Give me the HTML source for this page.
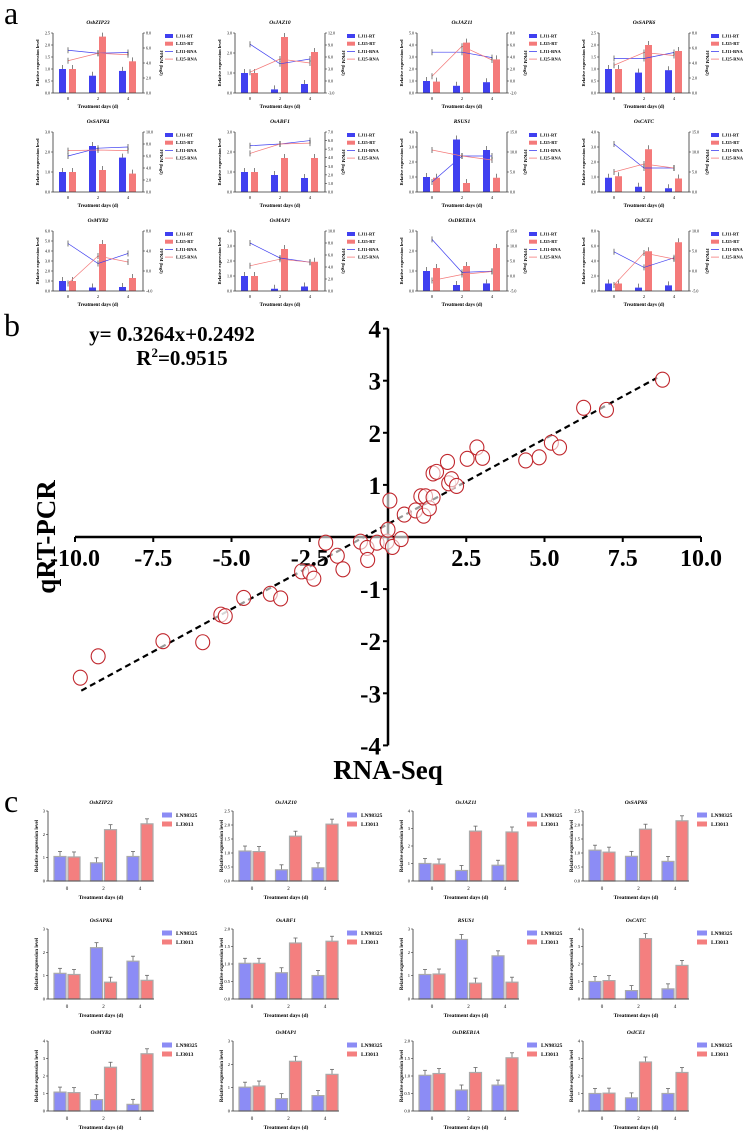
<!DOCTYPE html>
<html><head><meta charset="utf-8"><style>
html,body{margin:0;padding:0;background:#fff}
svg{display:block;font-family:"Liberation Serif",serif}
</style></head><body>
<svg id="fig" width="744" height="1134" viewBox="0 0 744 1134">
<text x="4" y="24" font-size="32">a</text>
<text x="4" y="336" font-size="32">b</text>
<text x="4" y="812" font-size="32">c</text>
<g id="pa"></g>
<g id="pb"></g>
<g id="pc"></g>
</svg>
<script>
// ---------- Panel b data ----------
const scatterX = [-9.83,-9.26,-7.19,-5.92,-5.34,-5.2,-4.61,-3.76,-3.43,-2.76,-2.5,-2.37,-1.99,-1.62,-1.44,-0.88,-0.67,-0.65,-0.35,-0.03,0,0.06,0.14,0.42,0.52,0.88,1.05,1.14,1.2,1.32,1.44,1.44,1.55,1.9,1.94,2.03,2.19,2.53,2.84,3.02,4.4,4.83,5.22,5.48,6.25,6.98,8.77];
const scatterY = [-2.70,-2.29,-2.00,-2.02,-1.49,-1.52,-1.17,-1.09,-1.18,-0.66,-0.68,-0.80,-0.11,-0.36,-0.62,-0.09,-0.21,-0.44,-0.11,-0.09,0.14,0.70,-0.19,-0.04,0.43,0.51,0.78,0.41,0.78,0.55,0.76,1.22,1.25,1.44,1.03,1.11,0.98,1.50,1.72,1.52,1.47,1.53,1.81,1.72,2.48,2.44,3.02];
const xTicks = [-10,-7.5,-5,-2.5,2.5,5,7.5,10];
const xTickLabels = ["-10.0","-7.5","-5.0","-2.5","2.5","5.0","7.5","10.0"];
const yTicks = [4,3,2,1,-1,-2,-3,-4];
const regSlope = 0.3264, regIntercept = 0.2492, regRange = [-9.8,8.6];

// ---------- Panel a data ----------
const aGenes = ["OsbZIP23","OsJAZ10","OsJAZ11","OsSAPK6","OsSAPK4","OsABF1","RSUS1","OsCATC","OsMYB2","OsMAP1","OsDREB1A","OsICE1"];
const aLeftMax = [2.5,3,5,2.5,3,3,4,4,6,4,3,8];
const aLeftStep = [0.5,1,1,0.5,1,1,1,1,1,1,1,2];
const aRightMin = [0,-3,-2,0,0,0,0,0,-4,0,-5,-5];
const aRightMax = [8,12,8,8,10,7,15,15,8,10,15,10];
const aRightStep = [2,3,2,2,2,1,5,5,4,2,5,5];
const aLJ11RT = [[1.0,0.72,0.92],[1.0,0.18,0.45],[1.0,0.6,0.9],[1.0,0.85,0.95],[1.0,2.3,1.72],[1.0,0.85,0.7],[1.0,3.5,2.8],[0.95,0.35,0.25],[1.0,0.35,0.4],[1.0,0.15,0.3],[1.0,0.3,0.38],[1.0,0.45,0.75]];
const aLJ25RT = [[1.0,2.35,1.32],[1.0,2.8,2.05],[0.95,4.2,2.8],[1.0,2.0,1.75],[1.0,1.1,0.92],[1.0,1.7,1.7],[0.95,0.6,0.95],[1.05,2.85,0.9],[1.0,4.7,1.3],[1.0,2.8,1.95],[1.15,1.25,2.15],[1.0,5.3,6.5]];
const aLJ11RNA = [[5.7,5.3,5.4],[9.2,4.3,5.5],[4.8,4.8,3.9],[4.6,4.6,5.4],[6.0,7.3,7.5],[5.4,5.6,6.0],[2.5,9.0,9.0],[12.0,6.0,6.0],[5.5,1.5,3.5],[8.0,5.5,4.8],[12.2,1.2,1.6],[4.8,0.9,3.3]];
const aLJ25RNA = [[4.3,5.3,5.1],[2.2,5.5,4.5],[0.8,5.8,3.5],[3.7,5.4,5.0],[6.9,7.0,6.9],[4.5,5.6,5.7],[10.5,9.0,8.0],[5.0,7.0,6.0],[-2.5,3.0,1.8],[4.2,5.3,4.8],[-1.5,0.5,1.5],[-3.5,4.5,3.0]];
const aLegend = ["LJ11-RT","LJ25-RT","LJ11-RNA","LJ25-RNA"];

// ---------- Panel c data ----------
const cGenes = ["OsbZIP23","OsJAZ10","OsJAZ11","OsSAPK6","OsSAPK4","OsABF1","RSUS1","OsCATC","OsMYB2","OsMAP1","OsDREB1A","OsICE1"];
const cMax = [3,2.5,4,2.5,3,2.0,3,4,4,3,2.0,4];
const cStep = [1,0.5,1,0.5,1,0.5,1,1,1,1,0.5,1];
const cLN = [[1.05,0.78,1.05],[1.07,0.4,0.47],[1.0,0.6,0.9],[1.1,0.88,0.7],[1.1,2.2,1.62],[1.02,0.75,0.67],[1.05,2.55,1.85],[1.0,0.48,0.58],[1.08,0.65,0.38],[1.02,0.53,0.66],[1.02,0.6,0.74],[1.0,0.75,1.0]];
const cLJ = [[1.03,2.2,2.45],[1.05,1.6,2.03],[0.97,2.85,2.8],[1.03,1.85,2.15],[1.05,0.72,0.8],[1.02,1.6,1.65],[1.07,0.68,0.72],[1.05,3.45,1.92],[1.05,2.5,3.27],[1.07,2.13,1.57],[1.07,1.1,1.52],[1.02,2.8,2.2]];
const days = ["0","2","4"];
const cLegend = ["LN98325","LJ3013"];

const NS="http://www.w3.org/2000/svg";
function mk(parent,tag,attrs,text){const e=document.createElementNS(NS,tag);for(const k in attrs)e.setAttribute(k,attrs[k]);if(text!==undefined)e.textContent=text;parent.appendChild(e);return e;}

// ---------- Panel b ----------
(function(){
  const g=document.getElementById('pb');
  const x0=388,y0=537,ux=31.3,uy=52.1;
  const sx=v=>x0+v*ux, sy=v=>y0-v*uy;
  let e=mk(g,'line',{x1:sx(-10),y1:y0,x2:sx(10),y2:y0,stroke:'#000','stroke-width':2.5});
  
  e=mk(g,'line',{x1:x0,y1:sy(4),x2:x0,y2:sy(-4),stroke:'#000','stroke-width':2.5});
  
  xTicks.forEach((t,i)=>{
    mk(g,'line',{x1:sx(t),y1:y0,x2:sx(t),y2:y0+5,stroke:'#000','stroke-width':2});
    const l=mk(g,'text',{x:sx(t),y:y0+29,'font-size':24,'font-weight':'bold','text-anchor':'middle'},xTickLabels[i]);
    
  });
  yTicks.forEach(t=>{
    mk(g,'line',{x1:x0-5,y1:sy(t),x2:x0,y2:sy(t),stroke:'#000','stroke-width':2});
    const l=mk(g,'text',{x:x0-7,y:sy(t)+9,'font-size':25,'font-weight':'bold','text-anchor':'end'},String(t));
    
  });
  e=mk(g,'line',{x1:sx(regRange[0]),y1:sy(regSlope*regRange[0]+regIntercept),x2:sx(regRange[1]),y2:sy(regSlope*regRange[1]+regIntercept),stroke:'#000','stroke-width':2.2,'stroke-dasharray':'6,4'});
  
  scatterX.forEach((v,i)=>{
    const c=mk(g,'ellipse',{cx:sx(v),cy:sy(scatterY[i]),rx:7,ry:7.5,fill:'#fff','fill-opacity':0.6,stroke:'#c0272d','stroke-width':1.1});
    
  });
  e=mk(g,'text',{x:172,y:341,'font-size':21,'font-weight':'bold','text-anchor':'middle'},'y= 0.3264x+0.2492');
  
  e=mk(g,'text',{x:182,y:365,'font-size':21,'font-weight':'bold','text-anchor':'middle'});
  
  e.innerHTML='R<tspan dy="-8" font-size="13">2</tspan><tspan dy="8">=0.9515</tspan>';
  e=mk(g,'text',{x:0,y:0,'font-size':27,'font-weight':'bold','text-anchor':'middle',transform:'translate(55,537) rotate(-90)'},'qRT-PCR');
  
  e=mk(g,'text',{x:388,y:779,'font-size':27,'font-weight':'bold','text-anchor':'middle'},'RNA-Seq');
  
})();

// ---------- Panel a ----------
(function(){
  const g=document.getElementById('pa');
  const colL=[53,235,417,599], rowT=[33,132,231];
  const W=90,H=60,BLUE='#4040f0',RED='#f47a7a';
  aGenes.forEach((name,i)=>{
    const L=colL[i%4],T=rowT[Math.floor(i/4)],B=T+H,R=L+W;
    const p=mk(g,'g',{});
    
    
    const yl=v=>B-v/aLeftMax[i]*H;
    const yr=v=>B-(v-aRightMin[i])/(aRightMax[i]-aRightMin[i])*H;
    const gx=k=>L+W*(1+2*k)/6;
    const t=mk(p,'text',{x:L+W/2,y:T-9,'font-size':5.5,'font-style':'italic','font-weight':'bold','text-anchor':'middle'},name);
    
    for(let k=0;k<3;k++){
      const b1=mk(p,'rect',{x:gx(k)-9,y:yl(aLJ11RT[i][k]),width:7,height:B-yl(aLJ11RT[i][k]),fill:BLUE});
      
      const b2=mk(p,'rect',{x:gx(k)+1,y:yl(aLJ25RT[i][k]),width:7,height:B-yl(aLJ25RT[i][k]),fill:RED});
      
      mk(p,'line',{x1:gx(k)-5.5,y1:yl(aLJ11RT[i][k])-4,x2:gx(k)-5.5,y2:yl(aLJ11RT[i][k]),stroke:'#333','stroke-width':0.6});
      mk(p,'line',{x1:gx(k)+4.5,y1:yl(aLJ25RT[i][k])-4,x2:gx(k)+4.5,y2:yl(aLJ25RT[i][k]),stroke:'#333','stroke-width':0.6});
      mk(p,'text',{x:gx(k),y:B+7,'font-size':4.5,'text-anchor':'middle'},days[k]);
    }
    [[aLJ11RNA,BLUE,'line-lj11-rna'],[aLJ25RNA,RED,'line-lj25-rna']].forEach(([arr,col,nm])=>{
      const pts=arr[i].map((v,k)=>gx(k)+','+yr(v)).join(' ');
      const pl=mk(p,'polyline',{points:pts,fill:'none',stroke:col,'stroke-width':0.7});
      
      arr[i].forEach((v,k)=>{mk(p,'line',{x1:gx(k),y1:yr(v)-3,x2:gx(k),y2:yr(v)+3,stroke:'#222','stroke-width':0.6});});
    });
    mk(p,'polyline',{points:`${L},${T} ${L},${B} ${R},${B} ${R},${T}`,fill:'none',stroke:'#333','stroke-width':0.8});
    for(let v=0;v<=aLeftMax[i]+1e-9;v+=aLeftStep[i]){
      mk(p,'line',{x1:L-2,y1:yl(v),x2:L,y2:yl(v),stroke:'#333','stroke-width':0.6});
      mk(p,'text',{x:L-3,y:yl(v)+1.5,'font-size':4,'text-anchor':'end'},v.toFixed(1));
    }
    for(let v=aRightMin[i];v<=aRightMax[i]+1e-9;v+=aRightStep[i]){
      mk(p,'line',{x1:R,y1:yr(v),x2:R+2,y2:yr(v),stroke:'#333','stroke-width':0.6});
      mk(p,'text',{x:R+3,y:yr(v)+1.5,'font-size':4},v.toFixed(1));
    }
    mk(p,'text',{x:0,y:0,'font-size':4.5,'font-weight':'bold','text-anchor':'middle',transform:`translate(${L-14},${T+H/2}) rotate(-90)`},'Relative expression level');
    mk(p,'text',{x:0,y:0,'font-size':4.5,'font-weight':'bold','text-anchor':'middle',transform:`translate(${R+17},${T+H/2}) rotate(90)`},'FPKM (log2)');
    const xl=mk(p,'text',{x:L+W/2,y:B+15,'font-size':5,'font-weight':'bold','text-anchor':'middle'},'Treatment days (d)');
    
    aLegend.forEach((lab,j)=>{
      const ly=T+3+j*7.7,col=j%2===0?BLUE:RED;
      if(j<2) mk(p,'rect',{x:R+22,y:ly-2,width:8,height:4,fill:col});
      else mk(p,'line',{x1:R+22,y1:ly,x2:R+30,y2:ly,stroke:col,'stroke-width':0.8});
      const lt=mk(p,'text',{x:R+33,y:ly+1.5,'font-size':4.5,'font-weight':'bold'},lab);
      
    });
  });
})();

// ---------- Panel c ----------
(function(){
  const g=document.getElementById('pc');
  const colL=[48,233,413,583], rowT=[811,929,1041];
  const W=106,H=70,LNC='#8c8cf5',LJC='#f47f7f';
  cGenes.forEach((name,i)=>{
    const L=colL[i%4],T=rowT[Math.floor(i/4)],B=T+H;
    const p=mk(g,'g',{});
    
    
    const y=v=>B-v/cMax[i]*H;
    const gx=k=>L+19+k*36.5;
    const t=mk(p,'text',{x:L+W/2,y:T-7,'font-size':5.5,'font-style':'italic','font-weight':'bold','text-anchor':'middle'},name);
    
    for(let k=0;k<3;k++){
      [[cLN,LNC,-13,'bar-ln98325'],[cLJ,LJC,1,'bar-lj3013']].forEach(([arr,col,off,nm])=>{
        const v=arr[i][k];
        mk(p,'line',{x1:gx(k)+off+6,y1:y(v)-5,x2:gx(k)+off+6,y2:y(v),stroke:'#666','stroke-width':0.8});
        mk(p,'line',{x1:gx(k)+off+4,y1:y(v)-5,x2:gx(k)+off+8,y2:y(v)-5,stroke:'#666','stroke-width':0.8});
        const r=mk(p,'rect',{x:gx(k)+off,y:y(v),width:12,height:B-y(v),fill:col,stroke:'#aaa','stroke-width':1.2});
        
      });
      mk(p,'text',{x:gx(k),y:B+9,'font-size':5,'text-anchor':'middle'},days[k]);
    }
    mk(p,'polyline',{points:`${L},${T} ${L},${B} ${L+W},${B}`,fill:'none',stroke:'#333','stroke-width':0.8});
    for(let v=0;v<=cMax[i]+1e-9;v+=cStep[i]){
      mk(p,'line',{x1:L-2,y1:y(v),x2:L,y2:y(v),stroke:'#333','stroke-width':0.6});
      mk(p,'text',{x:L-3,y:y(v)+1.5,'font-size':4.5,'text-anchor':'end'},cStep[i]<1?v.toFixed(1):String(v));
    }
    mk(p,'text',{x:0,y:0,'font-size':5,'font-weight':'bold','text-anchor':'middle',transform:`translate(${L-10},${T+H/2}) rotate(-90)`},'Relative expression level');
    const xl=mk(p,'text',{x:L+W/2,y:B+18,'font-size':5.5,'font-weight':'bold','text-anchor':'middle'},'Treatment days (d)');
    
    cLegend.forEach((lab,j)=>{
      const ly=T+4+j*9;
      mk(p,'rect',{x:L+114,y:ly-2.5,width:10,height:5,fill:j?LJC:LNC});
      const lt=mk(p,'text',{x:L+128,y:ly+2,'font-size':5.5,'font-weight':'bold'},lab);
      
    });
  });
})();
</script>
</body></html>
